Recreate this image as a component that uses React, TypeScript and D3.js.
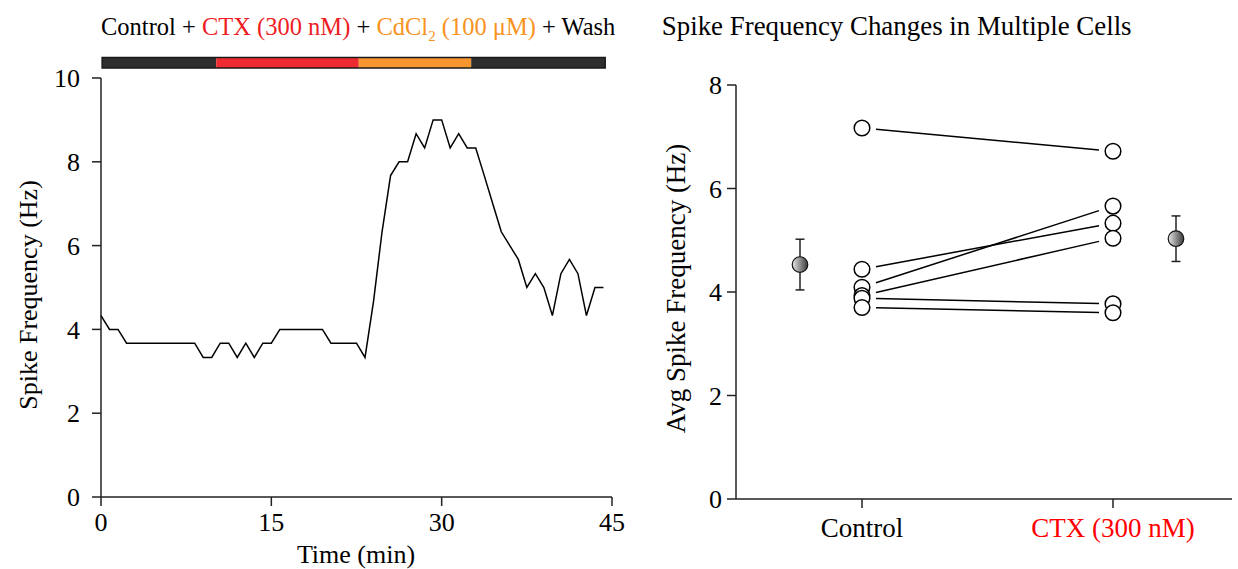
import React from "react";
import * as d3 from "d3";

// ---------- Left panel data: spike frequency time course ----------
const timeMin = [
  0, 0.75, 1.5, 2.25, 3, 3.75, 4.5, 5.25, 6, 6.75, 7.5, 8.25, 9, 9.75, 10.5,
  11.25, 12, 12.75, 13.5, 14.25, 15, 15.75, 16.5, 17.25, 18, 18.75, 19.5,
  20.25, 21, 21.75, 22.5, 23.25, 24, 24.75, 25.5, 26.25, 27, 27.75, 28.5,
  29.25, 30, 30.75, 31.5, 32.25, 33, 33.75, 34.5, 35.25, 36, 36.75, 37.5,
  38.25, 39, 39.75, 40.5, 41.25, 42, 42.75, 43.5, 44.25,
];
const spikeHz = [
  4.33, 4.0, 4.0, 3.67, 3.67, 3.67, 3.67, 3.67, 3.67, 3.67, 3.67, 3.67, 3.33,
  3.33, 3.67, 3.67, 3.33, 3.67, 3.33, 3.67, 3.67, 4.0, 4.0, 4.0, 4.0, 4.0, 4.0,
  3.67, 3.67, 3.67, 3.67, 3.33, 4.67, 6.33, 7.67, 8.0, 8.0, 8.67, 8.33, 9.0,
  9.0, 8.33, 8.67, 8.33, 8.33, 7.67, 7.0, 6.33, 6.0, 5.67, 5.0, 5.33, 5.0,
  4.33, 5.33, 5.67, 5.33, 4.33, 5.0, 5.0,
];
const xTicksLeft = [0, 15, 30, 45];
const yTicksLeft = [0, 2, 4, 6, 8, 10];

// treatment bar (minutes)
const phaseStarts = [0.1, 10.15, 22.7, 32.6];
const phaseEnds = [10.15, 22.7, 32.6, 44.4];
const phaseColors = ["#2e2e2e", "#ee2b30", "#f7962e", "#2e2e2e"];

// ---------- Right panel data: multiple cells ----------
const conditions = ["Control", "CTX (300 nM)"];
const conditionColors = ["#000000", "#ff0000"];
const cellControl = [7.17, 4.44, 4.09, 3.93, 3.88, 3.7];
const cellCTX = [6.72, 5.33, 5.66, 5.04, 3.77, 3.6];
const meanValues = [4.53, 5.03];
const semValues = [0.49, 0.44];
const yTicksRight = [0, 2, 4, 6, 8];

const FONT = "'Liberation Serif', 'Times New Roman', serif";

export default function App() {
  // left scales
  const xL = d3.scaleLinear().domain([0, 45]).range([101, 612]);
  const yL = d3.scaleLinear().domain([0, 10]).range([497, 78]);
  const line = d3
    .line<number>()
    .x((_, i) => xL(timeMin[i]))
    .y((d) => yL(d));

  // right scales
  const xR = d3.scaleLinear().domain([0, 1]).range([862, 1113]);
  const yR = d3.scaleLinear().domain([0, 8]).range([499, 85]);
  const meanOffset = [-62, 63];
  const axisLeftR = 736;
  const axisRightR = 1232;

  const trim = 14;
  const cellOrder = d3.range(cellControl.length);

  return (
    <svg
      width={1238}
      height={569}
      style={{ position: "absolute", left: 0, top: 0, background: "#fff" }}
      fontFamily={FONT}
    >
      <defs>
        <linearGradient id="meanGrad" x1="0" y1="0" x2="1" y2="0">
          <stop offset="0" stopColor="#e6e6e6" />
          <stop offset="1" stopColor="#3a3a3a" />
        </linearGradient>
      </defs>

      {/* ---------------- LEFT PANEL ---------------- */}
      <text x={101} y={35} fontSize={24.5} fill="#000">
        <tspan>Control + </tspan>
        <tspan fill="#ee1c24">CTX (300 nM)</tspan>
        <tspan> + </tspan>
        <tspan fill="#f7931e">CdCl</tspan>
        <tspan fill="#f7931e" fontSize={15} dy={6}>2</tspan>
        <tspan fill="#f7931e" dy={-6}> (100 μM)</tspan>
        <tspan> + Wash</tspan>
      </text>

      {phaseStarts.map((s, i) => (
        <rect
          key={"ph" + i}
          x={xL(s)}
          y={57.5}
          width={xL(phaseEnds[i]) - xL(s)}
          height={10.5}
          fill={phaseColors[i]}
        />
      ))}
      <rect
        x={xL(phaseStarts[0])}
        y={57.5}
        width={xL(phaseEnds[3]) - xL(phaseStarts[0])}
        height={10.5}
        fill="none"
        stroke="#1a1a1a"
        strokeWidth={1.5}
      />

      {/* axes */}
      <line x1={xL(0)} x2={xL(0)} y1={yL(0)} y2={yL(10)} stroke="#222" strokeWidth={1.5} />
      <line x1={xL(0)} x2={xL(45)} y1={yL(0)} y2={yL(0)} stroke="#222" strokeWidth={1.5} />
      {yTicksLeft.map((t) => (
        <g key={"yl" + t}>
          <line x1={xL(0) - 9} x2={xL(0)} y1={yL(t)} y2={yL(t)} stroke="#222" strokeWidth={1.5} />
          <text x={80} y={yL(t)} dy="0.35em" textAnchor="end" fontSize={26}>
            {t}
          </text>
        </g>
      ))}
      {xTicksLeft.map((t) => (
        <g key={"xl" + t}>
          <line x1={xL(t)} x2={xL(t)} y1={yL(0)} y2={yL(0) + 9} stroke="#222" strokeWidth={1.5} />
          <text x={xL(t)} y={531} textAnchor="middle" fontSize={26}>
            {t}
          </text>
        </g>
      ))}
      <text x={356} y={563} textAnchor="middle" fontSize={26}>
        Time (min)
      </text>
      <text
        transform={`translate(37,${295}) rotate(-90)`}
        textAnchor="middle"
        fontSize={26}
      >
        Spike Frequency (Hz)
      </text>

      <path d={line(spikeHz) || ""} fill="none" stroke="#000" strokeWidth={1.5} strokeLinejoin="miter" />

      {/* ---------------- RIGHT PANEL ---------------- */}
      <text x={896.7} y={35} textAnchor="middle" fontSize={26.9}>
        Spike Frequency Changes in Multiple Cells
      </text>

      <line x1={axisLeftR} x2={axisLeftR} y1={yR(0)} y2={yR(8)} stroke="#222" strokeWidth={1.5} />
      <line x1={axisLeftR} x2={axisRightR} y1={yR(0)} y2={yR(0)} stroke="#222" strokeWidth={1.5} />
      {yTicksRight.map((t) => (
        <g key={"yr" + t}>
          <line x1={axisLeftR - 9} x2={axisLeftR} y1={yR(t)} y2={yR(t)} stroke="#222" strokeWidth={1.5} />
          <text x={722} y={yR(t)} dy="0.35em" textAnchor="end" fontSize={26}>
            {t}
          </text>
        </g>
      ))}
      {conditions.map((c, i) => (
        <g key={"xr" + i}>
          <line x1={xR(i)} x2={xR(i)} y1={yR(0)} y2={yR(0) + 9} stroke="#222" strokeWidth={1.5} />
          <text x={xR(i)} y={537} textAnchor="middle" fontSize={27} fill={conditionColors[i]}>
            {c}
          </text>
        </g>
      ))}
      <text
        transform={`translate(685,${288.5}) rotate(-90)`}
        textAnchor="middle"
        fontSize={27}
      >
        Avg Spike Frequency (Hz)
      </text>

      {/* connecting lines */}
      {cellOrder.map((k) => {
        const x1 = xR(0), y1 = yR(cellControl[k]);
        const x2 = xR(1), y2 = yR(cellCTX[k]);
        const slope = (y2 - y1) / (x2 - x1);
        return (
          <line
            key={"cl" + k}
            x1={x1 + trim}
            y1={y1 + slope * trim}
            x2={x2 - trim}
            y2={y2 - slope * trim}
            stroke="#000"
            strokeWidth={1.5}
          />
        );
      })}
      {cellOrder.map((k) => (
        <circle key={"cc" + k} cx={xR(0)} cy={yR(cellControl[k])} r={7.8} fill="#fff" stroke="#000" strokeWidth={1.5} />
      ))}
      {[...cellOrder]
        .sort((a, b) => cellCTX[b] - cellCTX[a])
        .map((k) => (
          <circle key={"cx" + k} cx={xR(1)} cy={yR(cellCTX[k])} r={7.8} fill="#fff" stroke="#000" strokeWidth={1.5} />
        ))}

      {/* means with error bars */}
      {meanValues.map((m, i) => {
        const cx = xR(i) + meanOffset[i];
        return (
          <g key={"m" + i}>
            <line x1={cx} x2={cx} y1={yR(m + semValues[i])} y2={yR(m - semValues[i])} stroke="#222" strokeWidth={1.5} />
            <line x1={cx - 4.5} x2={cx + 4.5} y1={yR(m + semValues[i])} y2={yR(m + semValues[i])} stroke="#222" strokeWidth={1.5} />
            <line x1={cx - 4.5} x2={cx + 4.5} y1={yR(m - semValues[i])} y2={yR(m - semValues[i])} stroke="#222" strokeWidth={1.5} />
            <circle cx={cx} cy={yR(m)} r={7.8} fill="url(#meanGrad)" stroke="#111" strokeWidth={1.2} />
          </g>
        );
      })}
    </svg>
  );
}
